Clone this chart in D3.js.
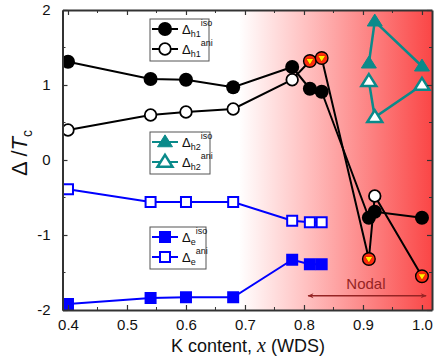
<!DOCTYPE html>
<head>
<meta charset="utf-8">
<style>
  body { margin: 0; background: #fff; }
  text { font-family: "Liberation Sans", Arial, sans-serif; }
</style>
</head>
<body>
  <svg width="436" height="359"></svg>

  <script src="https://d3js.org/d3.v7.min.js"></script>
  <script>
  // K content values and gap ratios
  const xH1 = [0.4, 0.54, 0.6, 0.68, 0.78, 0.81, 0.83, 0.91, 0.92, 1.0];
  const h1Iso = [1.31, 1.08, 1.07, 0.97, 1.24, 0.95, 0.91, -0.77, -0.69, -0.77];
  const h1Ani = [0.40, 0.60, 0.64, 0.68, 1.07, 1.32, 1.36, -1.32, -0.48, -1.55];
  const h1AniNodal = [false, false, false, false, false, true, true, true, false, true];

  const xH2 = [0.91, 0.92, 1.0];
  const h2Iso = [1.29, 1.85, 1.25];
  const h2Ani = [1.05, 0.57, 1.0];

  const xE = [0.4, 0.54, 0.6, 0.68, 0.78, 0.81, 0.83];
  const eIso = [-1.92, -1.84, -1.83, -1.83, -1.33, -1.39, -1.39];
  const eAni = [-0.39, -0.56, -0.56, -0.56, -0.81, -0.83, -0.83];

  const xTicks = [0.4, 0.5, 0.6, 0.7, 0.8, 0.9, 1.0];
  const yTicks = [-2, -1, 0, 1, 2];

  const teal = '#0a8a8a';
  const blue = '#0000ff';
  const darkRed = '#952424';

  const pLeft = 62.5, pRight = 432, pTop = 10, pBottom = 310;
  const x = d3.scaleLinear().domain([0.3907, 1.017]).range([pLeft, pRight]);
  const y = d3.scaleLinear().domain([-2, 2]).range([pBottom, pTop]);

  const svg = d3.select('svg');
  const defs = svg.append('defs');

  const grad = defs.append('linearGradient')
    .attr('id', 'bg')
    .attr('gradientUnits', 'userSpaceOnUse')
    .attr('x1', x(0.69)).attr('x2', pRight).attr('y1', 0).attr('y2', 0);
  grad.append('stop').attr('offset', 0).attr('stop-color', '#ffffff');
  grad.append('stop').attr('offset', 0.35).attr('stop-color', '#ffc0c0');
  grad.append('stop').attr('offset', 1).attr('stop-color', '#fa4646');

  defs.append('clipPath').attr('id', 'clip')
    .append('rect')
    .attr('x', pLeft).attr('y', pTop)
    .attr('width', pRight - pLeft).attr('height', pBottom - pTop);

  ['arrowEnd', 'arrowStart'].forEach((id, i) => {
    defs.append('marker')
      .attr('id', id)
      .attr('viewBox', '0 0 10 10')
      .attr('refX', i === 0 ? 9 : 1).attr('refY', 5)
      .attr('markerWidth', 10).attr('markerHeight', 6)
      .attr('markerUnits', 'userSpaceOnUse')
      .attr('orient', 'auto')
      .append('path')
      .attr('d', i === 0 ? 'M0,1 L10,5 L0,9 L3,5 Z' : 'M10,1 L0,5 L10,9 L7,5 Z')
      .attr('fill', darkRed);
  });

  // background
  svg.append('rect')
    .attr('x', pLeft).attr('y', pTop)
    .attr('width', pRight - pLeft).attr('height', pBottom - pTop)
    .attr('fill', 'url(#bg)');

  const plot = svg.append('g').attr('clip-path', 'url(#clip)');

  const line = (xs) => d3.line().x((d, i) => x(xs[i])).y(d => y(d));

  const drawLine = (xs, ys, color, w) => {
    plot.append('path')
      .datum(ys)
      .attr('d', line(xs))
      .attr('fill', 'none')
      .attr('stroke', color)
      .attr('stroke-width', w);
  };

  // lines
  drawLine(xE, eIso, blue, 2);
  drawLine(xE, eAni, blue, 2);
  drawLine(xH1, h1Iso, '#000', 2);
  drawLine(xH1, h1Ani, '#000', 2);
  drawLine(xH2, h2Iso, teal, 2.5);
  drawLine(xH2, h2Ani, teal, 2.5);

  // marker helpers
  const square = (g, cx, cy, filled) => {
    g.append('rect')
      .attr('x', cx - 5).attr('y', cy - 5)
      .attr('width', 10).attr('height', 10)
      .attr('fill', filled ? blue : '#fff')
      .attr('stroke', blue).attr('stroke-width', 2);
  };
  const circle = (g, cx, cy, filled) => {
    g.append('circle')
      .attr('cx', cx).attr('cy', cy)
      .attr('r', filled ? 7 : 5.8)
      .attr('fill', filled ? '#000' : '#fff')
      .attr('stroke', '#000').attr('stroke-width', filled ? 0 : 1.8);
  };
  const triangle = (g, cx, cy, filled) => {
    const s = 6.8;
    g.append('path')
      .attr('d', `M${cx},${cy - s * 1.05} L${cx + s * 1.1},${cy + s * 0.7} L${cx - s * 1.1},${cy + s * 0.7} Z`)
      .attr('fill', filled ? teal : '#fff')
      .attr('stroke', teal).attr('stroke-width', filled ? 1 : 2.5)
      .attr('stroke-linejoin', 'miter');
  };
  const nodal = (g, cx, cy) => {
    g.append('circle')
      .attr('cx', cx).attr('cy', cy).attr('r', 6.3)
      .attr('fill', '#ff2a10').attr('stroke', '#000').attr('stroke-width', 1.4);
    g.append('path')
      .attr('d', `M${cx - 4},${cy - 2.5} L${cx + 4},${cy - 2.5} L${cx},${cy + 4} Z`)
      .attr('fill', '#ffee00').attr('stroke', '#e02000').attr('stroke-width', 0.8);
  };

  // markers
  xE.forEach((d, i) => square(plot, x(d), y(eAni[i]), false));
  xE.forEach((d, i) => square(plot, x(d), y(eIso[i]), true));
  xH1.forEach((d, i) => circle(plot, x(d), y(h1Iso[i]), true));
  xH1.forEach((d, i) => {
    if (h1AniNodal[i]) nodal(plot, x(d), y(h1Ani[i]));
    else circle(plot, x(d), y(h1Ani[i]), false);
  });
  xH2.forEach((d, i) => triangle(plot, x(d), y(h2Iso[i]), true));
  xH2.forEach((d, i) => triangle(plot, x(d), y(h2Ani[i]), false));

  // Nodal arrow
  svg.append('line')
    .attr('x1', x(0.807)).attr('x2', x(1.007))
    .attr('y1', y(-1.81)).attr('y2', y(-1.81))
    .attr('stroke', darkRed).attr('stroke-width', 1.3)
    .attr('marker-end', 'url(#arrowEnd)')
    .attr('marker-start', 'url(#arrowStart)');
  svg.append('text')
    .attr('x', x(0.905)).attr('y', y(-1.72))
    .attr('text-anchor', 'middle')
    .attr('font-size', 15)
    .attr('fill', darkRed)
    .text('Nodal');

  // axes
  const axisColor = '#333';
  const gx = svg.append('g').attr('transform', `translate(0,${pBottom})`)
    .call(d3.axisBottom(x).tickValues(xTicks).tickFormat(d3.format('.1f')).tickSizeInner(-5).tickSizeOuter(0).tickPadding(9));
  const gxTop = svg.append('g').attr('transform', `translate(0,${pTop})`)
    .call(d3.axisTop(x).tickValues(xTicks).tickFormat('').tickSizeInner(-5).tickSizeOuter(0));
  const gy = svg.append('g').attr('transform', `translate(${pLeft},0)`)
    .call(d3.axisLeft(y).tickValues(yTicks).tickFormat(d3.format('d')).tickSizeInner(-5).tickSizeOuter(0).tickPadding(12));
  const gyRight = svg.append('g').attr('transform', `translate(${pRight},0)`)
    .call(d3.axisRight(y).tickValues(yTicks).tickFormat('').tickSizeInner(-5).tickSizeOuter(0));

  // minor ticks
  const xMinor = [0.45, 0.55, 0.65, 0.75, 0.85, 0.95];
  const yMinor = [-1.5, -0.5, 0.5, 1.5];
  [[gx, 'bottom'], [gxTop, 'top']].forEach(([g, side]) => {
    g.selectAll('.minor').data(xMinor).enter().append('line')
      .attr('class', 'minor')
      .attr('x1', d => x(d)).attr('x2', d => x(d))
      .attr('y1', 0).attr('y2', side === 'bottom' ? -3 : 3)
      .attr('stroke', axisColor);
  });
  [[gy, 'left'], [gyRight, 'right']].forEach(([g, side]) => {
    g.selectAll('.minor').data(yMinor).enter().append('line')
      .attr('class', 'minor')
      .attr('y1', d => y(d)).attr('y2', d => y(d))
      .attr('x1', 0).attr('x2', side === 'left' ? 3 : -3)
      .attr('stroke', axisColor);
  });

  [gx, gxTop, gy, gyRight].forEach(g => {
    g.select('.domain').attr('stroke', axisColor).attr('stroke-width', 2);
    g.selectAll('.tick line').attr('stroke', axisColor).attr('stroke-width', 1.2);
    g.selectAll('text').attr('font-size', 15).attr('fill', '#111')
      .attr('font-family', '"Liberation Sans", Arial, sans-serif');
  });
  gy.selectAll('.tick text').text(d => d < 0 ? '-' + Math.abs(d) : d);

  // axis titles
  const xt = svg.append('text')
    .attr('x', 248).attr('y', 352)
    .attr('text-anchor', 'middle')
    .attr('font-size', 18).attr('fill', '#111');
  xt.append('tspan').text('K content, ');
  xt.append('tspan').attr('font-family', '"Liberation Serif", serif').attr('font-style', 'italic').attr('font-size', 20).text('x');
  xt.append('tspan').text(' (WDS)');

  const yt = svg.append('text')
    .attr('transform', 'translate(27,153) rotate(-90)')
    .attr('text-anchor', 'middle')
    .attr('font-size', 22).attr('fill', '#111');
  yt.append('tspan').text('Δ /');
  yt.append('tspan').attr('font-style', 'italic').text('T');
  yt.append('tspan').attr('font-size', 14).attr('dy', 5).text('c');

  // legends
  const legend = (x0, y0, w, items) => {
    const g = svg.append('g');
    g.append('rect')
      .attr('x', x0).attr('y', y0).attr('width', w).attr('height', 42)
      .attr('fill', '#fff').attr('stroke', '#555').attr('stroke-width', 1);
    items.forEach((it, i) => {
      const cy = y0 + 10 + i * 20;
      g.append('line')
        .attr('x1', x0 + 2).attr('x2', x0 + 28).attr('y1', cy).attr('y2', cy)
        .attr('stroke', it.color).attr('stroke-width', 2);
      it.draw(g, x0 + 15, cy);
      const t = g.append('text')
        .attr('x', x0 + 32).attr('y', cy + 5)
        .attr('font-size', 13).attr('fill', '#111');
      t.append('tspan').text('Δ');
      t.append('tspan').attr('font-size', 9).attr('dy', 3).text(it.sub);
      t.append('tspan').attr('font-size', 9).attr('dy', -11).attr('dx', 0).text(it.sup);
    });
  };
  const legendEntries = [
    { color: '#000', sub: 'h1', draw: (g, cx, cy) => circle(g, cx, cy, true) },
    { color: '#000', sub: 'h1', draw: (g, cx, cy) => circle(g, cx, cy, false) },
    { color: teal, sub: 'h2', draw: (g, cx, cy) => triangle(g, cx, cy, true) },
    { color: teal, sub: 'h2', draw: (g, cx, cy) => triangle(g, cx, cy, false) },
    { color: blue, sub: 'e', draw: (g, cx, cy) => square(g, cx, cy, true) },
    { color: blue, sub: 'e', draw: (g, cx, cy) => square(g, cx, cy, false) }
  ];
  const sups = ['iso', 'ani'];
  legendEntries.forEach((d, i) => { d.sup = sups[i % 2]; });
  legend(150, 19, 59, legendEntries.slice(0, 2));
  legend(150, 132, 60, legendEntries.slice(2, 4));
  legend(150, 227, 56, legendEntries.slice(4, 6));
  </script>
</body>
</html>
